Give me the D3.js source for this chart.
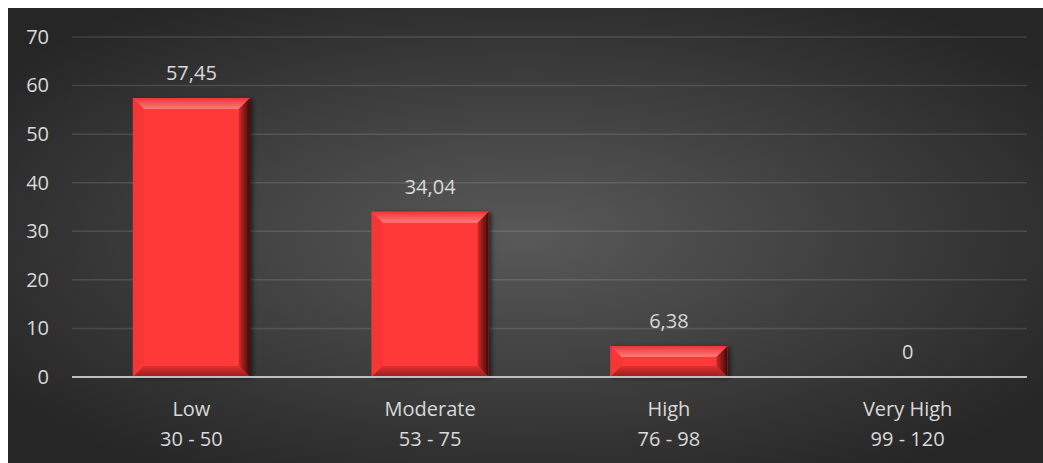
<!DOCTYPE html>
<html>
<head>
<meta charset="utf-8">
<script src="https://cdn.jsdelivr.net/npm/d3@7"></script>
<style>
  html, body { margin: 0; padding: 0; background: #fff; }
  svg text { font-family: "Open Sans", "Noto Sans", sans-serif; fill: #d9d9d9; }
</style>
</head>
<body>
<svg id="chart" width="1043" height="463"></svg>
<script>
// data
var categories = ["Low", "Moderate", "High", "Very High"];
var ranges = ["30 - 50", "53 - 75", "76 - 98", "99 - 120"];
var values = [57.45, 34.04, 6.38, 0];
var yTicks = [0, 10, 20, 30, 40, 50, 60, 70];

var svg = d3.select("#chart");
var W = 1043, H = 463;
var plotLeft = 72, plotRight = 1027, plotTop = 37, plotBottom = 377;
var fs = 20;

var defs = svg.append("defs");
var bg = defs.append("radialGradient").attr("id", "bgGrad")
  .attr("cx", "50%").attr("cy", "50%").attr("r", "62%");
bg.append("stop").attr("offset", "0%").attr("stop-color", "#595959");
bg.append("stop").attr("offset", "100%").attr("stop-color", "#262626");

var rg = defs.append("linearGradient").attr("id", "rightGrad")
  .attr("x1", "0").attr("x2", "1").attr("y1", "0").attr("y2", "0");
rg.append("stop").attr("offset", "0%").attr("stop-color", "#d02a2a");
rg.append("stop").attr("offset", "100%").attr("stop-color", "#3c0a0a");

var tg = defs.append("linearGradient").attr("id", "topGrad")
  .attr("x1", "0").attr("x2", "0").attr("y1", "0").attr("y2", "1");
tg.append("stop").attr("offset", "0%").attr("stop-color", "#f03434");
tg.append("stop").attr("offset", "100%").attr("stop-color", "#ff7a7a");

var bgg = defs.append("linearGradient").attr("id", "botGrad")
  .attr("x1", "0").attr("x2", "0").attr("y1", "0").attr("y2", "1");
bgg.append("stop").attr("offset", "0%").attr("stop-color", "#e03030");
bgg.append("stop").attr("offset", "100%").attr("stop-color", "#961e1e");

var shadow = defs.append("filter").attr("id", "shadow")
  .attr("x", "-10%").attr("y", "-10%").attr("width", "130%").attr("height", "130%");
shadow.append("feDropShadow").attr("dx", 3).attr("dy", 1).attr("stdDeviation", 2)
  .attr("flood-color", "#000").attr("flood-opacity", 0.5);

// background
svg.append("rect").attr("x", 8).attr("y", 8).attr("width", W - 8).attr("height", H - 8)
  .attr("fill", "url(#bgGrad)");

var x = d3.scaleBand().domain(categories).range([plotLeft, plotRight]).paddingInner(0.51).paddingOuter(0.255);
var y = d3.scaleLinear().domain([0, 70]).range([plotBottom, plotTop]);

// gridlines
svg.append("g").selectAll("line").data(yTicks.filter(function(d) { return d > 0; })).enter()
  .append("line")
  .attr("x1", plotLeft).attr("x2", plotRight)
  .attr("y1", function(d) { return y(d); }).attr("y2", function(d) { return y(d); })
  .attr("stroke", "#ffffff").attr("stroke-opacity", 0.12).attr("stroke-width", 1.5);

// y axis labels
var yAxis = d3.axisLeft(y).tickValues(yTicks).tickSize(0).tickPadding(0);
var yg = svg.append("g").attr("transform", "translate(49,0)").call(yAxis);
yg.select(".domain").remove();
yg.selectAll("text").attr("font-size", fs).attr("fill", "#d9d9d9")
  .attr("font-family", "'Open Sans', sans-serif");

// bars with bevel
var bars = svg.append("g").selectAll("g").data(values).enter().append("g")
  .attr("filter", "url(#shadow)");
bars.each(function(v, i) {
  var g = d3.select(this);
  var x0 = x(categories[i]), w = x.bandwidth();
  var y0 = y(v), h = y(0) - y(v);
  if (h <= 0) return;
  var b = Math.min(11, h / 2.2);
  var x1 = x0 + w, y1 = y0 + h;
  g.append("rect").attr("x", x0).attr("y", y0).attr("width", w).attr("height", h).attr("fill", "#ff3838");
  var poly = function(pts, fill) {
    g.append("polygon").attr("points", pts.map(function(p) { return p.join(","); }).join(" ")).attr("fill", fill);
  };
  poly([[x0, y0], [x1, y0], [x1 - b, y0 + b], [x0 + b, y0 + b]], "url(#topGrad)");
  poly([[x0, y0], [x0 + b, y0 + b], [x0 + b, y1 - b], [x0, y1]], "#f63636");
  poly([[x1, y0], [x1, y1], [x1 - b, y1 - b], [x1 - b, y0 + b]], "url(#rightGrad)");
  poly([[x0, y1], [x0 + b, y1 - b], [x1 - b, y1 - b], [x1, y1]], "url(#botGrad)");
});

// baseline
svg.append("line").attr("x1", plotLeft).attr("x2", plotRight)
  .attr("y1", y(0)).attr("y2", y(0))
  .attr("stroke", "#bfbfbf").attr("stroke-width", 2);

// data labels
svg.append("g").selectAll("text").data(values).enter().append("text")
  .attr("x", function(d, i) { return x(categories[i]) + x.bandwidth() / 2; })
  .attr("y", function(d) { return y(d) - 18; })
  .attr("text-anchor", "middle")
  .attr("font-size", fs)
  .text(function(d) { return String(d).replace(".", ","); });

// category labels
var cat = svg.append("g").selectAll("text").data(categories).enter().append("text")
  .attr("text-anchor", "middle")
  .attr("font-size", fs)
  .attr("x", function(d) { return x(d) + x.bandwidth() / 2; });
cat.append("tspan").attr("x", function(d) { return x(d) + x.bandwidth() / 2; }).attr("y", 416).text(function(d) { return d; });
cat.append("tspan").attr("x", function(d) { return x(d) + x.bandwidth() / 2; }).attr("y", 446).text(function(d, i) { return ranges[i]; });
</script>
</body>
</html>
